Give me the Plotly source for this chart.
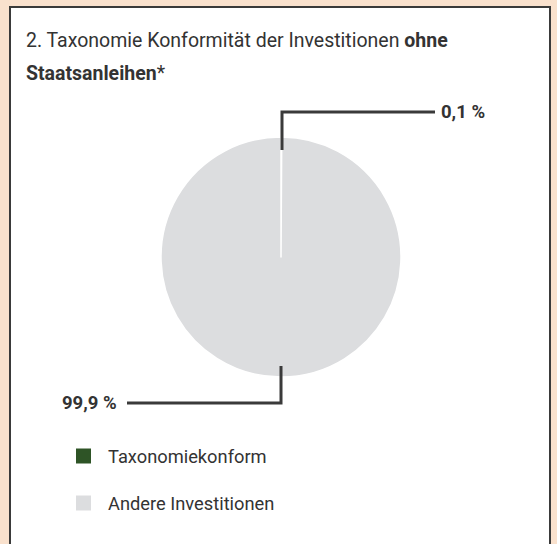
import plotly.graph_objects as go

# Data
categories = ["Taxonomiekonform", "Andere Investitionen"]
values = [0.1, 99.9]
value_labels = ["0,1 %", "99,9 %"]
colors = ["#2E5426", "#DCDDDF"]

W, H = 557, 544
CX, CY, R = 281, 257, 120  # pie centre / radius in px

FONT = "Roboto"
TXT = "#333333"
BG = "#F9E1CD"

def px(x):
    return x / W

def py(y):
    return 1 - y / H

fig = go.Figure()
fig.add_trace(go.Pie(
    labels=categories,
    values=values,
    marker=dict(colors=colors, line=dict(color="white", width=1.5)),
    sort=False,
    direction="clockwise",
    rotation=0,
    textinfo="none",
    hoverinfo="label+percent",
    showlegend=False,
    domain=dict(x=[px(CX - R), px(CX + R)], y=[py(CY + R), py(CY - R)]),
))

shapes = []
# white box with dark border
shapes.append(dict(type="rect", xref="paper", yref="paper", layer="below",
                   x0=px(10), x1=px(550), y0=py(H + 20), y1=py(7),
                   fillcolor="white", line=dict(color="#3a3a3a", width=2)))

LC = "#3a3a3a"
# callout top (0,1 %)
shapes.append(dict(type="path", xref="paper", yref="paper",
                   path=f"M {px(CX+1)},{py(CY-R+13)} L {px(CX+1)},{py(112)} L {px(435)},{py(112)}",
                   line=dict(color=LC, width=3)))
# callout bottom (99,9 %)
shapes.append(dict(type="path", xref="paper", yref="paper",
                   path=f"M {px(CX)},{py(CY+R-11)} L {px(CX)},{py(403)} L {px(127)},{py(403)}",
                   line=dict(color=LC, width=3)))

annotations = []
annotations.append(dict(x=px(439), y=py(112), xref="paper", yref="paper",
                        text=f"<b>{value_labels[0]}</b>", showarrow=False,
                        xanchor="left", yanchor="middle",
                        font=dict(family=FONT, size=18.5, color=TXT)))
annotations.append(dict(x=px(119), y=py(403), xref="paper", yref="paper",
                        text=f"<b>{value_labels[1]}</b>", showarrow=False,
                        xanchor="right", yanchor="middle",
                        font=dict(family=FONT, size=18.5, color=TXT)))

# title
annotations.append(dict(x=px(24), y=py(41), xref="paper", yref="paper",
                        text="2. Taxonomie Konformität der Investitionen <b>ohne</b>",
                        showarrow=False, xanchor="left", yanchor="middle",
                        font=dict(family=FONT, size=19.5, color=TXT)))
annotations.append(dict(x=px(24), y=py(74), xref="paper", yref="paper",
                        text="<b>Staatsanleihen</b>*",
                        showarrow=False, xanchor="left", yanchor="middle",
                        font=dict(family=FONT, size=19.5, color=TXT)))

# legend (manual)
leg_y = [456, 503]
for cat, col, yy in zip(categories, colors, leg_y):
    shapes.append(dict(type="rect", xref="paper", yref="paper",
                       x0=px(76), x1=px(91), y0=py(yy + 7.5), y1=py(yy - 7.5),
                       fillcolor=col, line=dict(width=0)))
    annotations.append(dict(x=px(106), y=py(yy), xref="paper", yref="paper",
                            text=cat, showarrow=False, xanchor="left", yanchor="middle",
                            font=dict(family=FONT, size=18.3, color=TXT)))

fig.update_layout(
    width=W, height=H,
    margin=dict(l=0, r=0, t=0, b=0),
    paper_bgcolor=BG,
    plot_bgcolor="white",
    shapes=shapes,
    annotations=annotations,
    showlegend=False,
)

fig.write_html(
    "out.html",
    config={"displayModeBar": False},
    post_script=f"document.body.style.margin='0px';document.body.style.backgroundColor='{BG}';",
)
